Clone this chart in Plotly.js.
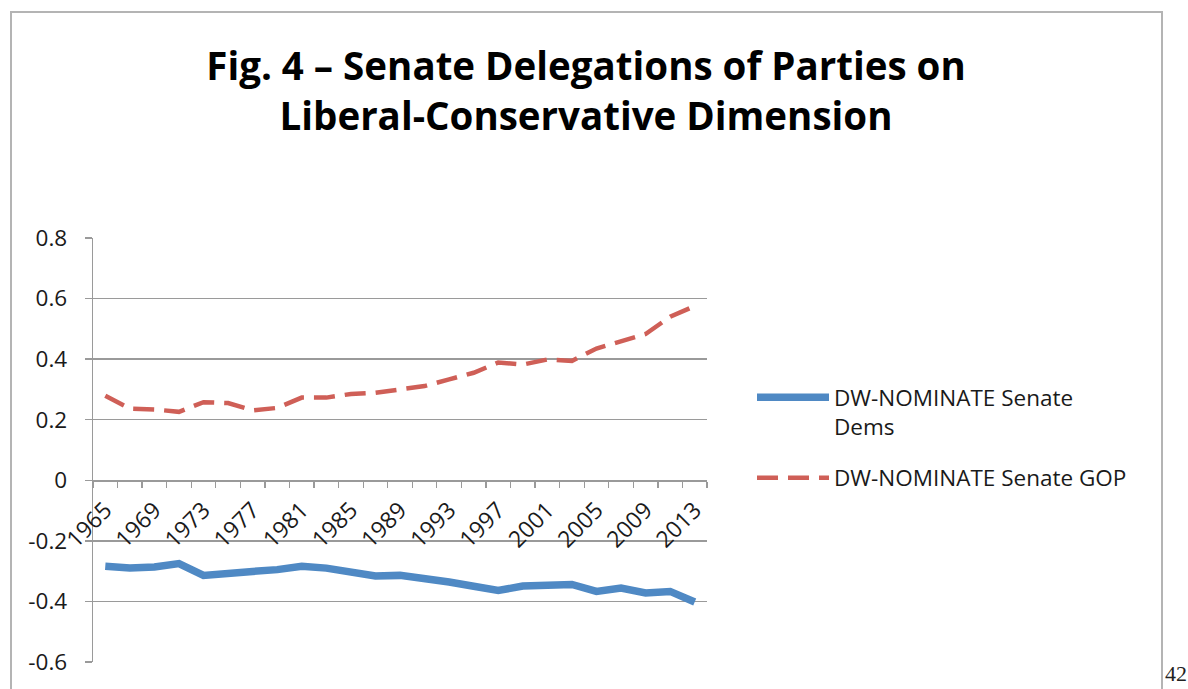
<!DOCTYPE html>
<html>
<head>
<meta charset="utf-8">
<script src="https://cdn.plot.ly/plotly-3.0.1.min.js"></script>
<style>
  html, body { margin: 0; padding: 0; background: #ffffff; }
  #chart { width: 1188px; height: 689px; }
</style>
</head>
<body>
<div id="chart"></div>
<script>
// Congress start years, one point per two-year Senate
const years = [1965, 1967, 1969, 1971, 1973, 1975, 1977, 1979, 1981, 1983, 1985, 1987, 1989,
               1991, 1993, 1995, 1997, 1999, 2001, 2003, 2005, 2007, 2009, 2011, 2013];

// Mean DW-NOMINATE first-dimension score of each party's Senate delegation
const senateDems = [-0.284, -0.290, -0.286, -0.275, -0.314, -0.305, -0.301, -0.295, -0.284, -0.290,
                    -0.303, -0.316, -0.314, -0.323, -0.336, -0.350, -0.364, -0.349, -0.349, -0.344,
                    -0.367, -0.356, -0.372, -0.367, -0.402];
const senateGop  = [0.279, 0.237, 0.234, 0.226, 0.258, 0.255, 0.231, 0.239, 0.273, 0.273,
                    0.285, 0.289, 0.300, 0.311, 0.333, 0.355, 0.389, 0.382, 0.399, 0.394,
                    0.435, 0.460, 0.483, 0.540, 0.575];

const demsName = 'DW-NOMINATE Senate<br>Dems';
const gopName  = 'DW-NOMINATE Senate GOP';

// Axis labelling
const xTickYears = [1965, 1969, 1973, 1977, 1981, 1985, 1989, 1993, 1997, 2001, 2005, 2009, 2013];
const yTickVals  = [-0.6, -0.4, -0.2, 0, 0.2, 0.4, 0.6, 0.8];
const yTickText  = ['-0.6', '-0.4', '-0.2', '0', '0.2', '0.4', '0.6', '0.8'];

const titleText = 'Fig. 4 \u2013 Senate Delegations of Parties on<br>Liberal-Conservative Dimension';
const pageNumber = '42';

const yMin = -0.6, yMax = 0.8;
const xMin = years[0] - 1, xMax = years[years.length - 1] + 1;

const gridColor = '#9a9a9a';
const fontFamily = '"Open Sans", Lato, sans-serif';
const textFont = { family: fontFamily, size: 22.5, color: '#1a1a1a' };

// Margins of the plotting area (px)
const M = { l: 93, r: 481, t: 238, b: 27 };
const W = 1188, H = 689;
const plotW = W - M.l - M.r, plotH = H - M.t - M.b;
const px2paperX = p => (p - M.l) / plotW;
const px2paperY = p => (H - M.b - p) / plotH;

const traces = [
  {
    x: years, y: senateDems, name: demsName, legendgroup: 'dems',
    type: 'scatter', mode: 'lines',
    line: { color: '#4f89c4', width: 7.5 }
  },
  {
    x: years, y: senateGop, name: gopName, legendgroup: 'gop',
    type: 'scatter', mode: 'lines',
    line: { color: '#cf5f57', width: 4.5, dash: '21px,10px' }
  }
];

const layout = {
  width: W, height: H,
  margin: M,
  paper_bgcolor: '#ffffff', plot_bgcolor: '#ffffff',
  font: textFont,
  showlegend: true,
  title: {
    text: '<b>' + titleText + '</b>',
    font: { family: fontFamily, size: 38.5, color: '#000000' },
    xref: 'container', yref: 'container',
    x: 586 / W, xanchor: 'center',
    y: 1 - 80 / H, yanchor: 'top'
  },
  xaxis: {
    type: 'linear',
    range: [xMin, xMax],
    anchor: 'free',
    position: (0 - yMin) / (yMax - yMin),
    showgrid: false, zeroline: false,
    showline: true, linecolor: gridColor, linewidth: 1.3,
    tickmode: 'array', tickvals: xTickYears, ticktext: xTickYears.map(String),
    ticks: '', tickangle: -45,
    tickfont: { family: fontFamily, size: 23, color: '#1a1a1a' },
    ticklabelstandoff: 6,
    minor: { tick0: xMin, dtick: 2, ticks: 'outside', ticklen: 6, tickwidth: 1.3, tickcolor: gridColor, showgrid: false }
  },
  yaxis: {
    range: [yMin, yMax],
    tickmode: 'array', tickvals: yTickVals, ticktext: yTickText,
    ticks: 'outside', ticklen: 7, tickwidth: 1.3, tickcolor: gridColor,
    showgrid: true, gridcolor: gridColor, gridwidth: 1.3,
    zeroline: false,
    showline: true, linecolor: gridColor, linewidth: 1.3,
    tickfont: textFont, ticklabelstandoff: 13
  },
  legend: {
    x: px2paperX(752), xanchor: 'left',
    y: px2paperY(376), yanchor: 'top',
    bgcolor: 'rgba(0,0,0,0)',
    font: textFont,
    itemwidth: 72,
    valign: 'top',
    tracegroupgap: 19
  },
  shapes: [
    {
      type: 'rect', xref: 'paper', yref: 'paper', layer: 'below',
      x0: px2paperX(11), x1: px2paperX(1162),
      y0: px2paperY(720), y1: px2paperY(12),
      line: { color: '#b4b4b4', width: 2 }, fillcolor: 'rgba(0,0,0,0)'
    }
  ],
  annotations: [
    {
      text: pageNumber, xref: 'paper', yref: 'paper',
      x: px2paperX(1163), xanchor: 'left',
      y: px2paperY(688), yanchor: 'bottom',
      showarrow: false,
      font: { family: '"Liberation Serif", "DejaVu Serif", serif', size: 22, color: '#222222' }
    }
  ]
};

Plotly.newPlot('chart', traces, layout, { displayModeBar: false, staticPlot: true });
</script>
</body>
</html>
